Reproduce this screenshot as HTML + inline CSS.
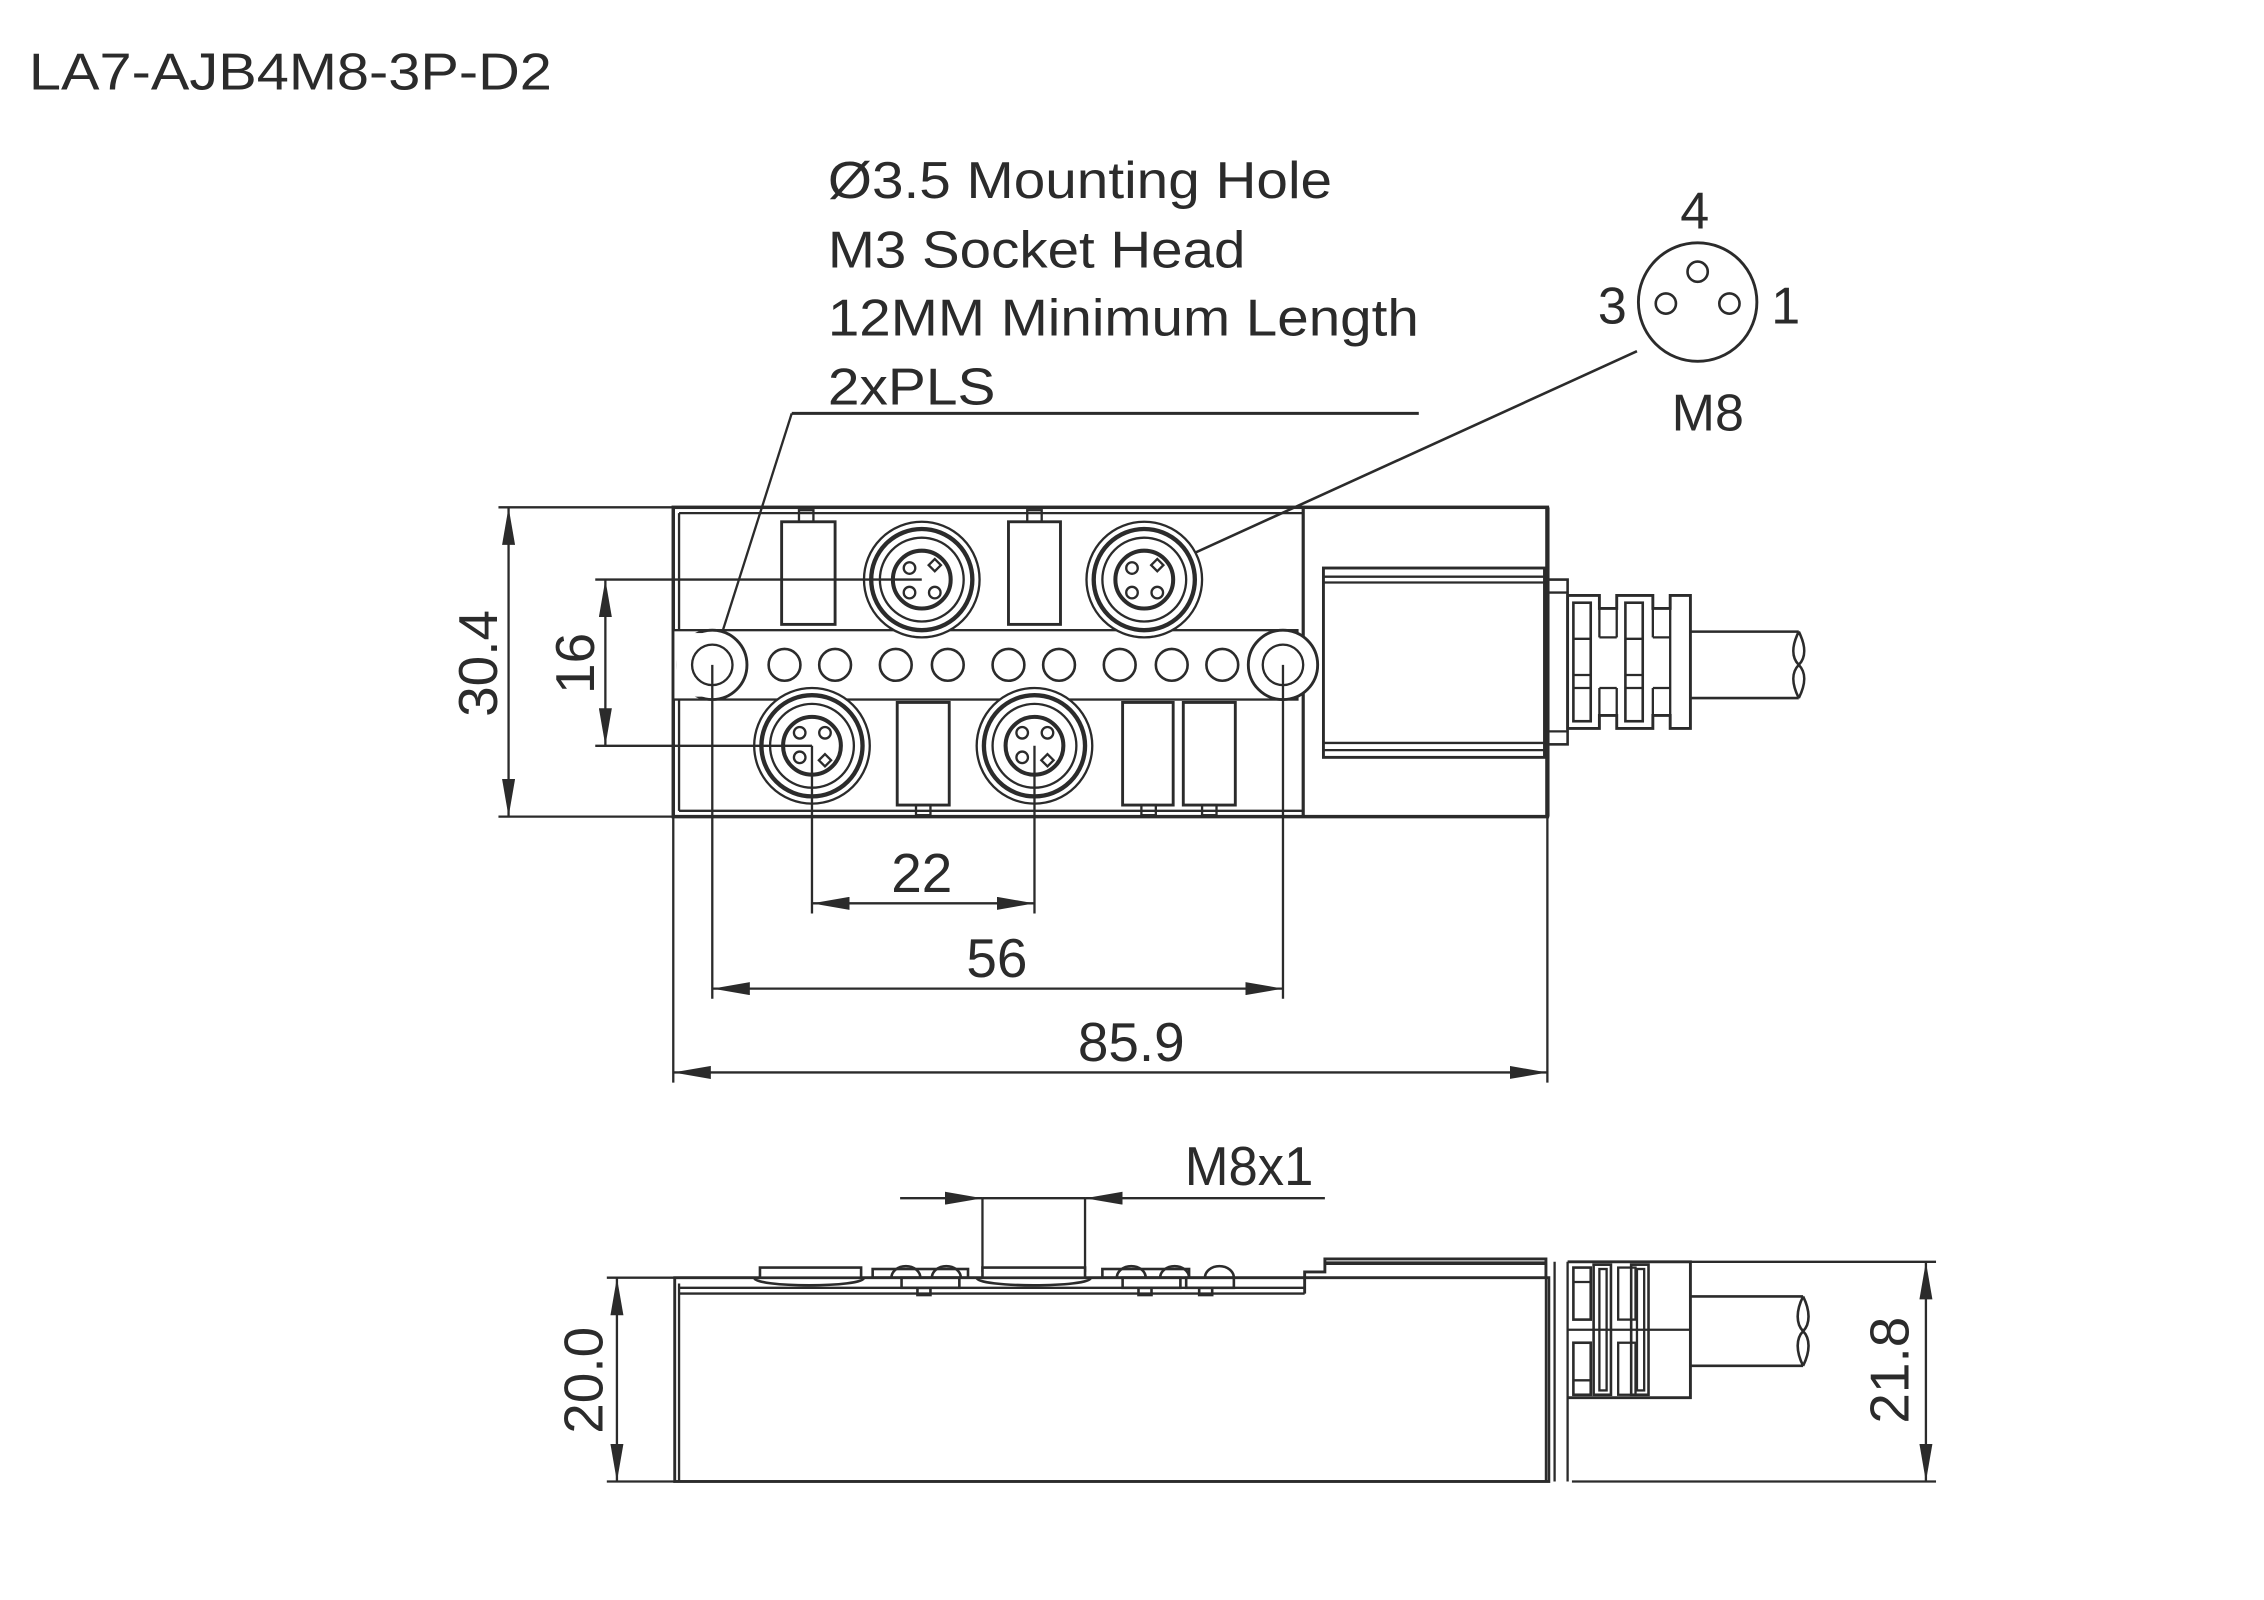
<!DOCTYPE html>
<html><head><meta charset="utf-8"><style>
html,body{margin:0;padding:0;background:#fff;}
svg{display:block;}
text{font-family:"Liberation Sans",Arial,sans-serif;fill:#2b2b2b;}
</style></head><body>
<svg width="2264" height="1600" viewBox="0 0 1567 1107" preserveAspectRatio="none" xmlns="http://www.w3.org/2000/svg">
<defs>
<marker id="a" viewBox="0 0 26 9" refX="26" refY="4.5" markerWidth="26" markerHeight="9" markerUnits="userSpaceOnUse" orient="auto"><path d="M0,0 L26,4.5 L0,9 Z" fill="#2b2b2b"/></marker>
<marker id="s" viewBox="0 0 26 9" refX="0" refY="4.5" markerWidth="26" markerHeight="9" markerUnits="userSpaceOnUse" orient="auto"><path d="M26,0 L0,4.5 L26,9 Z" fill="#2b2b2b"/></marker>
<marker id="ls" viewBox="0 0 20 7" refX="20" refY="3.5" markerWidth="20" markerHeight="7" markerUnits="userSpaceOnUse" orient="auto"><path d="M0,0 L20,3.5 L0,7 Z" fill="#2b2b2b"/></marker>
<g id="conn">
 <circle r="40" fill="#fff" stroke="#2b2b2b" stroke-width="1.6"/>
 <circle r="35" fill="none" stroke="#2b2b2b" stroke-width="3"/>
 <circle r="29" fill="none" stroke="#2b2b2b" stroke-width="1.6"/>
 <circle r="20" fill="none" stroke="#2b2b2b" stroke-width="2.8"/>
</g>
</defs>
<g stroke="#2b2b2b" fill="none" stroke-width="1.6">
<text x="20" y="62" font-size="36" textLength="362" lengthAdjust="spacingAndGlyphs" stroke="none">LA7-AJB4M8-3P-D2</text>
<text x="573" y="137" font-size="36" textLength="349" lengthAdjust="spacingAndGlyphs" stroke="none">Ø3.5 Mounting Hole</text>
<text x="573" y="185" font-size="36" textLength="289" lengthAdjust="spacingAndGlyphs" stroke="none">M3 Socket Head</text>
<text x="573" y="232" font-size="36" textLength="409" lengthAdjust="spacingAndGlyphs" stroke="none">12MM Minimum Length</text>
<text x="573" y="280" font-size="36" textLength="116" lengthAdjust="spacingAndGlyphs" stroke="none">2xPLS</text>
<line x1="548" y1="286" x2="982" y2="286" stroke-width="2"/>
<line x1="548" y1="286" x2="494" y2="456" marker-end="url(#ls)"/>
<!-- pinout -->
<circle cx="1175" cy="209" r="41" stroke-width="2"/>
<circle cx="1175" cy="188" r="7" stroke-width="1.8"/>
<circle cx="1153" cy="210" r="7" stroke-width="1.8"/>
<circle cx="1197" cy="210" r="7" stroke-width="1.8"/>
<text x="1173" y="158" font-size="36" text-anchor="middle" stroke="none">4</text>
<text x="1116" y="224" font-size="36" text-anchor="middle" stroke="none">3</text>
<text x="1236" y="224" font-size="36" text-anchor="middle" stroke="none">1</text>
<text x="1182" y="298" font-size="36" text-anchor="middle" stroke="none">M8</text>
<line x1="1133" y1="243" x2="793" y2="398" stroke-width="1.8" marker-end="url(#ls)"/>

<rect x="466" y="351" width="605" height="214" stroke-width="2.4"/>
<line x1="470" y1="355" x2="902" y2="355"/>
<line x1="470" y1="561" x2="902" y2="561"/>
<line x1="470" y1="355" x2="470" y2="561"/>
<line x1="902" y1="351" x2="902" y2="565" stroke-width="2.2"/>
<line x1="1071" y1="351" x2="1071" y2="565" stroke-width="3"/>
<rect x="466" y="436" width="432" height="48" fill="#fff"/>
<circle cx="493" cy="460" r="24" fill="#fff" stroke-width="2"/>
<circle cx="888" cy="460" r="24" fill="#fff" stroke-width="2"/>
<rect x="468" y="438" width="25" height="44" fill="#fff" stroke="none"/>
<circle cx="493" cy="460" r="14"/>
<circle cx="888" cy="460" r="14"/>
<g stroke-width="1.8">
<circle cx="543" cy="460" r="11"/><circle cx="578" cy="460" r="11"/>
<circle cx="620" cy="460" r="11"/><circle cx="656" cy="460" r="11"/>
<circle cx="698" cy="460" r="11"/><circle cx="733" cy="460" r="11"/>
<circle cx="775" cy="460" r="11"/><circle cx="811" cy="460" r="11"/>
<circle cx="846" cy="460" r="11"/>
</g>
<rect x="541" y="361" width="37" height="71" stroke-width="2"/><rect x="553" y="353" width="10" height="8"/>
<rect x="698" y="361" width="36" height="71" stroke-width="2"/><rect x="711" y="353" width="10" height="8"/>
<rect x="621" y="486" width="36" height="71" stroke-width="2"/><rect x="634" y="557" width="10" height="7"/>
<rect x="777" y="486" width="35" height="71" stroke-width="2"/><rect x="790" y="557" width="10" height="7"/>
<rect x="819" y="486" width="36" height="71" stroke-width="2"/><rect x="832" y="557" width="10" height="7"/>
<g transform="translate(638,401)"><use href="#conn"/><circle cx="-8.5" cy="-8" r="4"/><circle cx="-8.5" cy="9" r="4"/><circle cx="9" cy="9" r="4"/><rect x="6" y="-13" width="6" height="6" transform="rotate(45 9 -10)"/></g>
<g transform="translate(792,401)"><use href="#conn"/><circle cx="-8.5" cy="-8" r="4"/><circle cx="-8.5" cy="9" r="4"/><circle cx="9" cy="9" r="4"/><rect x="6" y="-13" width="6" height="6" transform="rotate(45 9 -10)"/></g>
<g transform="translate(562,516)"><use href="#conn"/><circle cx="-8.5" cy="-9" r="4"/><circle cx="9" cy="-9" r="4"/><circle cx="-8.5" cy="8" r="4"/><rect x="6" y="7" width="6" height="6" transform="rotate(45 9 10)"/></g>
<g transform="translate(716,516)"><use href="#conn"/><circle cx="-8.5" cy="-9" r="4"/><circle cx="9" cy="-9" r="4"/><circle cx="-8.5" cy="8" r="4"/><rect x="6" y="7" width="6" height="6" transform="rotate(45 9 10)"/></g>
<rect x="916" y="393" width="153" height="131" stroke-width="2"/>
<line x1="916" y1="399" x2="1069" y2="399"/><line x1="916" y1="403" x2="1069" y2="403"/>
<line x1="916" y1="514" x2="1069" y2="514"/><line x1="916" y1="519" x2="1069" y2="519"/>
<rect x="1071" y="401" width="14" height="114" stroke-width="1.8"/>
<line x1="1071" y1="410" x2="1085" y2="410"/><line x1="1071" y1="506" x2="1085" y2="506"/>
<path d="M1085,412 H1107 V421 H1119 V412 H1144 V421 H1156 V412 H1170 V504 H1156 V495 H1144 V504 H1119 V495 H1107 V504 H1085 Z" stroke-width="2"/>
<rect x="1089" y="417" width="12" height="82" stroke-width="1.8"/>
<rect x="1125" y="417" width="12" height="82" stroke-width="1.8"/>
<line x1="1089" y1="442" x2="1101" y2="442"/><line x1="1089" y1="467" x2="1101" y2="467"/><line x1="1089" y1="476" x2="1101" y2="476"/>
<line x1="1125" y1="442" x2="1137" y2="442"/><line x1="1125" y1="467" x2="1137" y2="467"/><line x1="1125" y1="476" x2="1137" y2="476"/>
<line x1="1107" y1="441" x2="1107" y2="421"/>
<line x1="1107" y1="441" x2="1119" y2="441"/><line x1="1119" y1="441" x2="1119" y2="421"/>
<line x1="1144" y1="441" x2="1156" y2="441"/><line x1="1144" y1="441" x2="1144" y2="421"/>
<line x1="1107" y1="476" x2="1119" y2="476"/><line x1="1144" y1="476" x2="1156" y2="476"/>
<line x1="1107" y1="476" x2="1107" y2="495"/><line x1="1119" y1="476" x2="1119" y2="495"/><line x1="1144" y1="476" x2="1144" y2="495"/>
<line x1="1156" y1="421" x2="1156" y2="495"/>
<path d="M1170,437 H1245 M1170,483 H1245" stroke-width="1.8"/>
<path d="M1245,437 C1240,447 1240,455 1245,460 C1250,465 1250,473 1245,483 M1245,437 C1250,447 1250,455 1245,460 C1240,465 1240,473 1245,483" stroke-width="1.8"/>

<line x1="345" y1="351" x2="466" y2="351"/><line x1="345" y1="565" x2="466" y2="565"/>
<line x1="352" y1="351" x2="352" y2="565" marker-start="url(#s)" marker-end="url(#a)"/>
<text transform="translate(344,459) rotate(-90)" font-size="38" text-anchor="middle" stroke="none">30.4</text>
<line x1="412" y1="401" x2="638" y2="401"/><line x1="412" y1="516" x2="562" y2="516"/>
<line x1="419" y1="401" x2="419" y2="516" marker-start="url(#s)" marker-end="url(#a)"/>
<text transform="translate(411,459) rotate(-90)" font-size="38" text-anchor="middle" stroke="none">16</text>
<line x1="562" y1="516" x2="562" y2="632"/><line x1="716" y1="516" x2="716" y2="632"/>
<line x1="562" y1="625" x2="716" y2="625" marker-start="url(#s)" marker-end="url(#a)"/>
<text x="638" y="617" font-size="38" text-anchor="middle" stroke="none">22</text>
<line x1="493" y1="460" x2="493" y2="691"/><line x1="888" y1="460" x2="888" y2="691"/>
<line x1="493" y1="684" x2="888" y2="684" marker-start="url(#s)" marker-end="url(#a)"/>
<text x="690" y="676" font-size="38" text-anchor="middle" stroke="none">56</text>
<line x1="466" y1="565" x2="466" y2="749"/><line x1="1071" y1="565" x2="1071" y2="749"/>
<line x1="466" y1="742" x2="1071" y2="742" marker-start="url(#s)" marker-end="url(#a)"/>
<text x="783" y="734" font-size="38" text-anchor="middle" stroke="none">85.9</text>

<line x1="623" y1="829" x2="680" y2="829" marker-end="url(#a)"/>
<line x1="917" y1="829" x2="751" y2="829" marker-end="url(#a)"/>
<line x1="680" y1="829" x2="751" y2="829"/>
<line x1="680" y1="829" x2="680" y2="880"/><line x1="751" y1="829" x2="751" y2="880"/>
<text x="820" y="820" font-size="38" textLength="89" lengthAdjust="spacingAndGlyphs" stroke="none">M8x1</text>

<rect x="467" y="884" width="605" height="141" stroke-width="2"/>
<line x1="470" y1="888" x2="470" y2="1025"/>
<line x1="470" y1="891" x2="903" y2="891"/><line x1="470" y1="895" x2="903" y2="895"/>
<path d="M903,895 V880 H917 V871 H1070 V884" stroke-width="2"/>
<line x1="917" y1="874" x2="1070" y2="874" stroke-width="2.5"/>
<line x1="1070" y1="873" x2="1070" y2="1025"/>
<line x1="1076" y1="873" x2="1076" y2="1025"/>
<line x1="1085" y1="873" x2="1085" y2="1025"/>
<g stroke-width="1.8">
<path d="M522,884 C522,891 598,891 598,884" /><rect x="526" y="877" width="70" height="7" fill="#fff"/>
<path d="M676,884 C676,891 755,891 755,884" /><rect x="680" y="877" width="71" height="7" fill="#fff"/>
<rect x="604" y="878" width="66" height="6"/><rect x="763" y="878" width="60" height="6"/>
<path d="M617,884 a10,8 0 0 1 20,0 M645,884 a10,8 0 0 1 20,0 M773,884 a10,8 0 0 1 20,0 M803,884 a10,8 0 0 1 20,0 M834,884 a10,8 0 0 1 20,0"/>
<rect x="624" y="884" width="40" height="7"/><rect x="635" y="891" width="9" height="5"/>
<rect x="777" y="884" width="40" height="7"/><rect x="788" y="891" width="9" height="5"/>
<rect x="821" y="884" width="33" height="7"/><rect x="830" y="891" width="9" height="5"/>
</g>
<path d="M1085,873 H1170 V967 H1085" stroke-width="2"/>
<rect x="1089" y="877" width="12" height="36" stroke-width="1.8"/><rect x="1089" y="929" width="12" height="36" stroke-width="1.8"/>
<rect x="1103" y="875" width="12" height="90" stroke-width="1.8"/><rect x="1129" y="875" width="12" height="90" stroke-width="1.8"/>
<rect x="1107" y="878" width="5" height="84"/><rect x="1133" y="878" width="5" height="84"/>
<rect x="1120" y="877" width="12" height="36"/><rect x="1120" y="929" width="12" height="36"/>
<line x1="1085" y1="920" x2="1170" y2="920"/>
<line x1="1089" y1="887" x2="1101" y2="887"/><line x1="1089" y1="955" x2="1101" y2="955"/>
<path d="M1170,897 H1248 M1170,945 H1248" stroke-width="1.8"/>
<path d="M1248,897 C1243,907 1243,916 1248,921 C1253,926 1253,935 1248,945 M1248,897 C1253,907 1253,916 1248,921 C1243,926 1243,935 1248,945" stroke-width="1.8"/>
<line x1="420" y1="884" x2="467" y2="884"/><line x1="420" y1="1025" x2="467" y2="1025"/>
<line x1="427" y1="884" x2="427" y2="1025" marker-start="url(#s)" marker-end="url(#a)"/>
<text transform="translate(417,955) rotate(-90)" font-size="38" text-anchor="middle" stroke="none">20.0</text>
<line x1="1170" y1="873" x2="1340" y2="873"/><line x1="1088" y1="1025" x2="1340" y2="1025"/>
<line x1="1333" y1="873" x2="1333" y2="1025" marker-start="url(#s)" marker-end="url(#a)"/>
<text transform="translate(1321,948) rotate(-90)" font-size="38" text-anchor="middle" stroke="none">21.8</text>
</g>
</svg>
</body></html>
